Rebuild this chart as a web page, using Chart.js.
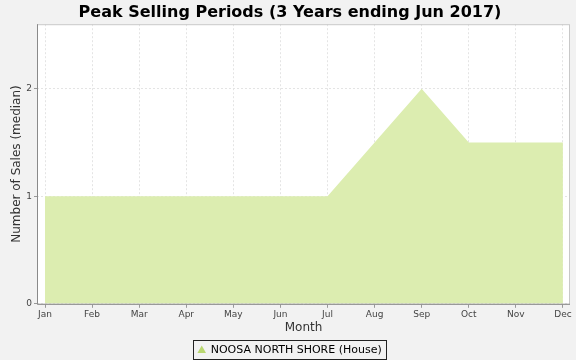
<!DOCTYPE html>
<html>
<head>
<meta charset="utf-8">
<script src="https://cdn.jsdelivr.net/npm/chart.js@4.4.1/dist/chart.umd.min.js"></script>
<style>
  html, body { margin: 0; padding: 0; background: #f2f2f2; }
  #wrap { width: 576px; height: 360px; }
</style>
</head>
<body>
<div id="wrap"><canvas id="salesChart" width="576" height="360"></canvas></div>
<script>
const months = ['Jan', 'Feb', 'Mar', 'Apr', 'May', 'Jun', 'Jul', 'Aug', 'Sep', 'Oct', 'Nov', 'Dec'];
const medianSales = [1, 1, 1, 1, 1, 1, 1, 1.5, 2, 1.5, 1.5, 1.5];
const yTicks = [0, 1, 2];
const seriesName = 'NOOSA NORTH SHORE (House)';

const FONT = "'DejaVu Sans', sans-serif";

// grey frame round the plot, like the original
const plotFrame = {
  id: 'plotFrame',
  beforeDraw(chart) {
    const { ctx, chartArea: a } = chart;
    ctx.save();
    ctx.fillStyle = '#ffffff';
    ctx.fillRect(a.left, a.top, a.right - a.left, a.bottom - a.top);
    ctx.restore();
  },
  afterDraw(chart) {
    const { ctx, chartArea: a } = chart;
    ctx.save();
    ctx.strokeStyle = '#c8c8c8';
    ctx.lineWidth = 1;
    ctx.strokeRect(a.left + 0.5, a.top + 0.5, a.right - a.left - 1, a.bottom - a.top);
    ctx.strokeStyle = '#8a8a8a';
    ctx.beginPath();
    ctx.moveTo(a.left + 0.5, a.top);
    ctx.lineTo(a.left + 0.5, a.bottom + 0.5);
    ctx.lineTo(a.right, a.bottom + 0.5);
    ctx.stroke();
    // box round the legend
    const lg = chart.legend;
    if (lg && lg.legendHitBoxes && lg.legendHitBoxes.length) {
      const hb = lg.legendHitBoxes[0];
      ctx.strokeStyle = '#222';
      ctx.strokeRect(Math.round(hb.left) - 4.5, Math.round(hb.top) - 4.5, Math.round(hb.width) + 9, Math.round(hb.height) + 8);
    }
    ctx.restore();
  }
};

new Chart(document.getElementById('salesChart'), {
  type: 'line',
  data: {
    datasets: [{
      label: seriesName,
      data: months.map((m, i) => ({ x: i, y: medianSales[i] })),
      borderColor: 'rgba(0,0,0,0)',
      borderWidth: 0,
      backgroundColor: '#dcedb0',
      fill: 'origin',
      tension: 0,
      pointRadius: 0
    }]
  },
  options: {
    responsive: false,
    animation: false,
    layout: { padding: { left: 10, right: 6, top: 0, bottom: -6 } },
    plugins: {
      title: {
        display: true,
        text: 'Peak Selling Periods (3 Years ending Jun 2017)',
        color: '#000',
        font: { family: FONT, size: 16, weight: 'bold' },
        padding: { top: 3, bottom: 2 }
      },
      legend: {
        position: 'bottom',
        labels: {
          color: '#000',
          font: { family: FONT, size: 11 },
          usePointStyle: true,
          pointStyle: 'triangle',
          boxWidth: 7,
          boxHeight: 7,
          padding: 5,
          generateLabels(chart) {
            return [{
              text: seriesName,
              fillStyle: '#b9d770',
              strokeStyle: '#b9d770',
              lineWidth: 0,
              pointStyle: 'triangle',
              datasetIndex: 0
            }];
          }
        }
      },
      tooltip: { enabled: false }
    },
    scales: {
      x: {
        type: 'linear',
        min: -0.17,
        max: 11.15,
        afterBuildTicks(scale) {
          scale.ticks = months.map((m, i) => ({ value: i }));
        },
        ticks: {
          autoSkip: false,
          maxRotation: 0,
          padding: 1,
          color: '#444',
          font: { family: FONT, size: 9 },
          callback: v => months[v]
        },
        grid: {
          color: '#e4e4e4',
          tickBorderDash: [],
          tickColor: '#999',
          tickLength: 4
        },
        border: { display: false, dash: [2, 2] },
        title: {
          display: true,
          text: 'Month',
          color: '#333',
          font: { family: FONT, size: 12 },
          padding: { top: 0, bottom: 5 }
        }
      },
      y: {
        min: 0,
        max: 2.6,
        afterBuildTicks(scale) {
          scale.ticks = yTicks.map(v => ({ value: v }));
        },
        afterFit(scale) { scale.width = 27; },
        ticks: {
          padding: 2,
          color: '#444',
          font: { family: FONT, size: 9 }
        },
        grid: {
          color: '#e4e4e4',
          tickBorderDash: [],
          tickColor: '#999',
          tickLength: 3
        },
        border: { display: false, dash: [2, 2] },
        title: {
          display: true,
          text: 'Number of Sales (median)',
          color: '#333',
          font: { family: FONT, size: 12 },
          padding: { top: 0, bottom: 2 }
        }
      }
    }
  },
  plugins: [plotFrame]
});
</script>
</body>
</html>
